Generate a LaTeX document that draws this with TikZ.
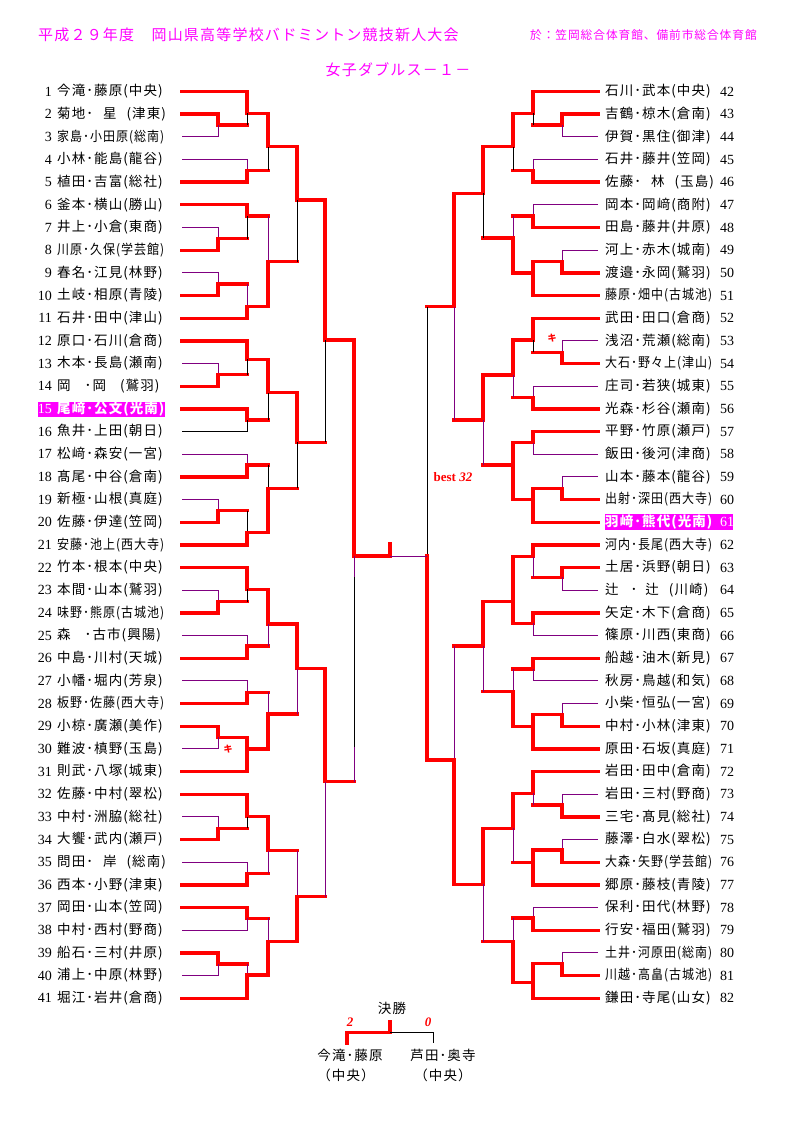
\documentclass[tikz,border=0pt]{standalone}
\usepackage{fontspec}
\setmainfont{Liberation Serif}
\newfontfamily\jp[LetterSpace=8]{Noto Sans CJK JP}
\definecolor{lpurple}{RGB}{128,0,128}
\definecolor{hmag}{RGB}{255,0,255}
\newcommand\sq[1]{\scalebox{0.89}[1]{#1}}

\begin{document}
\begin{tikzpicture}[x=1pt,y=-1pt,
  win/.style={red,line width=3.4pt,line cap=rect},
  lose/.style={lpurple,line width=0.8pt},
  lost/.style={black,line width=0.8pt},
  seedL/.style={anchor=east,inner sep=0pt,font=\fontsize{14}{14}\selectfont},
  seedR/.style={anchor=west,inner sep=0pt,font=\fontsize{14}{14}\selectfont},
  pair/.style={anchor=west,inner sep=0pt,font=\jp\fontsize{13.5}{13.5}\selectfont},
  head/.style={inner sep=0pt,text=hmag,font=\jp\fontsize{15}{15}\selectfont},
  kiken/.style={inner sep=0pt,text=red,font=\jp\bfseries\fontsize{9}{9}\selectfont}]
\useasboundingbox (0,0) rectangle (794,1123);

% headings
\node[head,anchor=west] (title) at (38,35) {平成２９年度　岡山県高等学校バドミントン競技新人大会};
\node[head,anchor=west,font=\jp\fontsize{11.7}{12}\selectfont] (place) at (530,35) {於：笠岡総合体育館、備前市総合体育館};
\node[head] (event) at (398,70) {女子ダブルス－１－};

% highlighted pairs
\fill[hmag] (38,401.5) rectangle (165,416.5);
\fill[hmag] (605,513.5) rectangle (733,529.5);

% left side
\node[seedL] at (52,91.5) {1}; \node[pair] (l1) at (57,91.5) {今滝･藤原(中央)};
\node[seedL] at (52,114.2) {2}; \node[pair] (l2) at (57,114.2) {菊地･\hspace{10pt}星\hspace{10pt}(津東)};
\node[seedL] at (52,136.8) {3}; \node[pair] (l3) at (57,136.8) {\sq{家島･小田原(総南)}};
\node[seedL] at (52,159.5) {4}; \node[pair] (l4) at (57,159.5) {小林･能島(龍谷)};
\node[seedL] at (52,182.2) {5}; \node[pair] (l5) at (57,182.2) {植田･吉富(総社)};
\node[seedL] at (52,204.8) {6}; \node[pair] (l6) at (57,204.8) {釜本･横山(勝山)};
\node[seedL] at (52,227.5) {7}; \node[pair] (l7) at (57,227.5) {井上･小倉(東商)};
\node[seedL] at (52,250.2) {8}; \node[pair] (l8) at (57,250.2) {\sq{川原･久保(学芸館)}};
\node[seedL] at (52,272.8) {9}; \node[pair] (l9) at (57,272.8) {春名･江見(林野)};
\node[seedL] at (52,295.5) {10}; \node[pair] (l10) at (57,295.5) {土岐･相原(青陵)};
\node[seedL] at (52,318.2) {11}; \node[pair] (l11) at (57,318.2) {石井･田中(津山)};
\node[seedL] at (52,340.8) {12}; \node[pair] (l12) at (57,340.8) {原口･石川(倉商)};
\node[seedL] at (52,363.5) {13}; \node[pair] (l13) at (57,363.5) {木本･長島(瀬南)};
\node[seedL] at (52,386.2) {14}; \node[pair] (l14) at (57,386.2) {岡\hspace{14pt}･岡\hspace{14pt}(鷲羽)};
\node[seedL,text=white] at (52,408.8) {15}; \node[pair,text=white] (l15) at (57,408.8) {\bfseries 尾﨑･公文(光南)};
\node[seedL] at (52,431.5) {16}; \node[pair] (l16) at (57,431.5) {魚井･上田(朝日)};
\node[seedL] at (52,454.2) {17}; \node[pair] (l17) at (57,454.2) {松﨑･森安(一宮)};
\node[seedL] at (52,476.8) {18}; \node[pair] (l18) at (57,476.8) {髙尾･中谷(倉南)};
\node[seedL] at (52,499.5) {19}; \node[pair] (l19) at (57,499.5) {新極･山根(真庭)};
\node[seedL] at (52,522.2) {20}; \node[pair] (l20) at (57,522.2) {佐藤･伊達(笠岡)};
\node[seedL] at (52,544.8) {21}; \node[pair] (l21) at (57,544.8) {\sq{安藤･池上(西大寺)}};
\node[seedL] at (52,567.5) {22}; \node[pair] (l22) at (57,567.5) {竹本･根本(中央)};
\node[seedL] at (52,590.2) {23}; \node[pair] (l23) at (57,590.2) {本間･山本(鷲羽)};
\node[seedL] at (52,612.8) {24}; \node[pair] (l24) at (57,612.8) {\sq{味野･熊原(古城池)}};
\node[seedL] at (52,635.5) {25}; \node[pair] (l25) at (57,635.5) {森\hspace{14pt}･古市(興陽)};
\node[seedL] at (52,658.2) {26}; \node[pair] (l26) at (57,658.2) {中島･川村(天城)};
\node[seedL] at (52,680.8) {27}; \node[pair] (l27) at (57,680.8) {小幡･堀内(芳泉)};
\node[seedL] at (52,703.5) {28}; \node[pair] (l28) at (57,703.5) {\sq{板野･佐藤(西大寺)}};
\node[seedL] at (52,726.2) {29}; \node[pair] (l29) at (57,726.2) {小椋･廣瀬(美作)};
\node[seedL] at (52,748.8) {30}; \node[pair] (l30) at (57,748.8) {難波･槙野(玉島)};
\node[seedL] at (52,771.5) {31}; \node[pair] (l31) at (57,771.5) {則武･八塚(城東)};
\node[seedL] at (52,794.2) {32}; \node[pair] (l32) at (57,794.2) {佐藤･中村(翠松)};
\node[seedL] at (52,816.8) {33}; \node[pair] (l33) at (57,816.8) {中村･洲脇(総社)};
\node[seedL] at (52,839.5) {34}; \node[pair] (l34) at (57,839.5) {大饗･武内(瀬戸)};
\node[seedL] at (52,862.2) {35}; \node[pair] (l35) at (57,862.2) {問田･\hspace{10pt}岸\hspace{10pt}(総南)};
\node[seedL] at (52,884.8) {36}; \node[pair] (l36) at (57,884.8) {西本･小野(津東)};
\node[seedL] at (52,907.5) {37}; \node[pair] (l37) at (57,907.5) {岡田･山本(笠岡)};
\node[seedL] at (52,930.2) {38}; \node[pair] (l38) at (57,930.2) {中村･西村(野商)};
\node[seedL] at (52,952.8) {39}; \node[pair] (l39) at (57,952.8) {船石･三村(井原)};
\node[seedL] at (52,975.5) {40}; \node[pair] (l40) at (57,975.5) {浦上･中原(林野)};
\node[seedL] at (52,998.2) {41}; \node[pair] (l41) at (57,998.2) {堀江･岩井(倉商)};

% right side
\node[pair] (r42) at (605,91.5) {石川･武本(中央)}; \node[seedR] at (720,91.5) {42};
\node[pair] (r43) at (605,114.2) {吉鶴･椋木(倉南)}; \node[seedR] at (720,114.2) {43};
\node[pair] (r44) at (605,136.8) {伊賀･黒住(御津)}; \node[seedR] at (720,136.8) {44};
\node[pair] (r45) at (605,159.5) {石井･藤井(笠岡)}; \node[seedR] at (720,159.5) {45};
\node[pair] (r46) at (605,182.2) {佐藤･\hspace{10pt}林\hspace{10pt}(玉島)}; \node[seedR] at (720,182.2) {46};
\node[pair] (r47) at (605,204.8) {岡本･岡﨑(商附)}; \node[seedR] at (720,204.8) {47};
\node[pair] (r48) at (605,227.5) {田島･藤井(井原)}; \node[seedR] at (720,227.5) {48};
\node[pair] (r49) at (605,250.2) {河上･赤木(城南)}; \node[seedR] at (720,250.2) {49};
\node[pair] (r50) at (605,272.8) {渡邉･永岡(鷲羽)}; \node[seedR] at (720,272.8) {50};
\node[pair] (r51) at (605,295.5) {\sq{藤原･畑中(古城池)}}; \node[seedR] at (720,295.5) {51};
\node[pair] (r52) at (605,318.2) {武田･田口(倉商)}; \node[seedR] at (720,318.2) {52};
\node[pair] (r53) at (605,340.8) {浅沼･荒瀬(総南)}; \node[seedR] at (720,340.8) {53};
\node[pair] (r54) at (605,363.5) {\sq{大石･野々上(津山)}}; \node[seedR] at (720,363.5) {54};
\node[pair] (r55) at (605,386.2) {庄司･若狭(城東)}; \node[seedR] at (720,386.2) {55};
\node[pair] (r56) at (605,408.8) {光森･杉谷(瀬南)}; \node[seedR] at (720,408.8) {56};
\node[pair] (r57) at (605,431.5) {平野･竹原(瀬戸)}; \node[seedR] at (720,431.5) {57};
\node[pair] (r58) at (605,454.2) {飯田･後河(津商)}; \node[seedR] at (720,454.2) {58};
\node[pair] (r59) at (605,476.8) {山本･藤本(龍谷)}; \node[seedR] at (720,476.8) {59};
\node[pair] (r60) at (605,499.5) {\sq{出射･深田(西大寺)}}; \node[seedR] at (720,499.5) {60};
\node[pair,text=white] (r61) at (605,522.2) {\bfseries 羽﨑･熊代(光南)}; \node[seedR,text=white] at (720,522.2) {61};
\node[pair] (r62) at (605,544.8) {\sq{河内･長尾(西大寺)}}; \node[seedR] at (720,544.8) {62};
\node[pair] (r63) at (605,567.5) {土居･浜野(朝日)}; \node[seedR] at (720,567.5) {63};
\node[pair] (r64) at (605,590.2) {辻\hspace{12pt}･\hspace{8pt}辻\hspace{10pt}(川崎)}; \node[seedR] at (720,590.2) {64};
\node[pair] (r65) at (605,612.8) {矢定･木下(倉商)}; \node[seedR] at (720,612.8) {65};
\node[pair] (r66) at (605,635.5) {篠原･川西(東商)}; \node[seedR] at (720,635.5) {66};
\node[pair] (r67) at (605,658.2) {船越･油木(新見)}; \node[seedR] at (720,658.2) {67};
\node[pair] (r68) at (605,680.8) {秋房･鳥越(和気)}; \node[seedR] at (720,680.8) {68};
\node[pair] (r69) at (605,703.5) {小柴･恒弘(一宮)}; \node[seedR] at (720,703.5) {69};
\node[pair] (r70) at (605,726.2) {中村･小林(津東)}; \node[seedR] at (720,726.2) {70};
\node[pair] (r71) at (605,748.8) {原田･石坂(真庭)}; \node[seedR] at (720,748.8) {71};
\node[pair] (r72) at (605,771.5) {岩田･田中(倉南)}; \node[seedR] at (720,771.5) {72};
\node[pair] (r73) at (605,794.2) {岩田･三村(野商)}; \node[seedR] at (720,794.2) {73};
\node[pair] (r74) at (605,816.8) {三宅･髙見(総社)}; \node[seedR] at (720,816.8) {74};
\node[pair] (r75) at (605,839.5) {藤澤･白水(翠松)}; \node[seedR] at (720,839.5) {75};
\node[pair] (r76) at (605,862.2) {\sq{大森･矢野(学芸館)}}; \node[seedR] at (720,862.2) {76};
\node[pair] (r77) at (605,884.8) {郷原･藤枝(青陵)}; \node[seedR] at (720,884.8) {77};
\node[pair] (r78) at (605,907.5) {保利･田代(林野)}; \node[seedR] at (720,907.5) {78};
\node[pair] (r79) at (605,930.2) {行安･福田(鷲羽)}; \node[seedR] at (720,930.2) {79};
\node[pair] (r80) at (605,952.8) {\sq{土井･河原田(総南)}}; \node[seedR] at (720,952.8) {80};
\node[pair] (r81) at (605,975.5) {\sq{川越･高畠(古城池)}}; \node[seedR] at (720,975.5) {81};
\node[pair] (r82) at (605,998.2) {鎌田･寺尾(山女)}; \node[seedR] at (720,998.2) {82};

% left bracket, 1-11
\draw[win] (182,91.5) -- (247,91.5) -- (247,113.3) -- (268,113.3) -- (268,146.7) -- (297,146.7) -- (297,200) -- (325,200) -- (325,340) -- (354,340) -- (354,556) -- (390,556) -- (390,544);
\draw[win] (182,114.2) -- (218,114.2) -- (218,125) -- (247,125);
\draw[lost] (247,125) -- (247,113.3);
\draw[lose] (182,136.8) -- (218,136.8) -- (218,125);
\draw[lose] (182,159.5) -- (247,159.5) -- (247,170.5);
\draw[win] (182,182.2) -- (247,182.2) -- (247,170.5) -- (268,170.5);
\draw[lost] (268,170.5) -- (268,146.7);
\draw[win] (182,204.8) -- (247,204.8) -- (247,216) -- (268,216);
\draw[lose] (268,216) -- (268,261.7);
\draw[lose] (182,227.5) -- (218,227.5) -- (218,238.5);
\draw[win] (182,250.2) -- (218,250.2) -- (218,238.5) -- (247,238.5);
\draw[lost] (247,238.5) -- (247,216);
\draw[lose] (182,272.8) -- (218,272.8) -- (218,284);
\draw[win] (182,295.5) -- (218,295.5) -- (218,284) -- (247,284);
\draw[lose] (247,284) -- (247,306.7);
\draw[win] (182,318.2) -- (247,318.2) -- (247,306.7) -- (268,306.7) -- (268,261.7) -- (297,261.7);
\draw[lost] (297,261.7) -- (297,200);

% left bracket, 12-21
\draw[win] (182,340.8) -- (247,340.8) -- (247,359.3) -- (268,359.3) -- (268,392.7) -- (297,392.7) -- (297,442.3) -- (325,442.3);
\draw[lost] (325,442.3) -- (325,340);
\draw[lose] (182,363.5) -- (218,363.5) -- (218,374.5);
\draw[win] (182,386.2) -- (218,386.2) -- (218,374.5) -- (247,374.5);
\draw[lost] (247,374.5) -- (247,359.3);
\draw[win] (182,408.8) -- (247,408.8) -- (247,420) -- (268,420);
\draw[lost] (268,420) -- (268,392.7);
\draw[lost] (182,431.5) -- (247,431.5) -- (247,420);
\draw[lose] (182,454.2) -- (247,454.2) -- (247,465);
\draw[win] (182,476.8) -- (247,476.8) -- (247,465) -- (268,465);
\draw[lost] (268,465) -- (268,488.3);
\draw[lose] (182,499.5) -- (218,499.5) -- (218,510.7);
\draw[win] (182,522.2) -- (218,522.2) -- (218,510.7) -- (247,510.7);
\draw[lost] (247,510.7) -- (247,532.7);
\draw[win] (182,544.8) -- (247,544.8) -- (247,532.7) -- (268,532.7) -- (268,488.3) -- (297,488.3);
\draw[lost] (297,488.3) -- (297,442.3);

% left bracket, 22-31
\draw[win] (182,567.5) -- (247,567.5) -- (247,589.3) -- (268,589.3) -- (268,624) -- (297,624) -- (297,668.7) -- (325,668.7) -- (325,781.7) -- (354,781.7);
\draw[lose] (354,781.7) -- (354,747);
\draw[lost] (354,747) -- (354,577);
\draw[lose] (354,577) -- (354,556);
\draw[lose] (182,590.2) -- (218,590.2) -- (218,601.7);
\draw[win] (182,612.8) -- (218,612.8) -- (218,601.7) -- (247,601.7);
\draw[lost] (247,601.7) -- (247,589.3);
\draw[lose] (182,635.5) -- (247,635.5) -- (247,646);
\draw[win] (182,658.2) -- (247,658.2) -- (247,646) -- (268,646);
\draw[lose] (268,646) -- (268,624);
\draw[lose] (182,680.8) -- (247,680.8) -- (247,692.3);
\draw[win] (182,703.5) -- (247,703.5) -- (247,692.3) -- (268,692.3);
\draw[lose] (268,692.3) -- (268,714);
\draw[win] (182,726.2) -- (218,726.2) -- (218,737.3) -- (247,737.3) -- (247,749) -- (268,749) -- (268,714) -- (297,714);
\draw[lose] (297,714) -- (297,668.7);
\draw[lose] (182,748.8) -- (218,748.8) -- (218,737.3);
\draw[win] (182,771.5) -- (247,771.5) -- (247,749);
\node[kiken] (k30) at (228,749) {キ};

% left bracket, 32-41
\draw[win] (182,794.2) -- (247,794.2) -- (247,816.7) -- (268,816.7) -- (268,850.7) -- (297,850.7);
\draw[lose] (297,850.7) -- (297,896.7);
\draw[lose] (182,816.8) -- (218,816.8) -- (218,828.3);
\draw[win] (182,839.5) -- (218,839.5) -- (218,828.3) -- (247,828.3);
\draw[lost] (247,828.3) -- (247,816.7);
\draw[lose] (182,862.2) -- (247,862.2) -- (247,873.3);
\draw[win] (182,884.8) -- (247,884.8) -- (247,873.3) -- (268,873.3);
\draw[lose] (268,873.3) -- (268,850.7);
\draw[win] (182,907.5) -- (247,907.5) -- (247,918.3) -- (268,918.3);
\draw[lose] (268,918.3) -- (268,941.7);
\draw[lose] (182,930.2) -- (247,930.2) -- (247,918.3);
\draw[win] (182,952.8) -- (218,952.8) -- (218,964) -- (247,964);
\draw[lose] (247,964) -- (247,975);
\draw[lose] (182,975.5) -- (218,975.5) -- (218,964);
\draw[win] (182,998.2) -- (247,998.2) -- (247,975) -- (268,975) -- (268,941.7) -- (297,941.7) -- (297,896.7) -- (325,896.7);
\draw[lose] (325,896.7) -- (325,781.7);

% right bracket, 42-51
\draw[win] (598,91.5) -- (533,91.5) -- (533,113.3) -- (513,113.3) -- (513,146.7) -- (483,146.7) -- (483,193.3) -- (454,193.3) -- (454,306.7) -- (427,306.7);
\draw[lost] (427,306.7) -- (427,556);
\draw[win] (598,114.2) -- (562,114.2) -- (562,125) -- (533,125);
\draw[lost] (533,125) -- (533,113.3);
\draw[lose] (598,136.8) -- (562,136.8) -- (562,125);
\draw[lose] (598,159.5) -- (533,159.5) -- (533,170.5);
\draw[win] (598,182.2) -- (533,182.2) -- (533,170.5) -- (513,170.5);
\draw[lost] (513,170.5) -- (513,146.7);
\draw[lose] (598,204.8) -- (533,204.8) -- (533,216);
\draw[win] (598,227.5) -- (533,227.5) -- (533,216) -- (513,216);
\draw[lose] (513,216) -- (513,238);
\draw[lose] (598,250.2) -- (562,250.2) -- (562,261.7);
\draw[win] (598,272.8) -- (562,272.8) -- (562,261.7) -- (533,261.7) -- (533,272.8) -- (513,272.8) -- (513,238) -- (483,238);
\draw[lost] (483,238) -- (483,193.3);
\draw[win] (598,295.5) -- (533,295.5) -- (533,272.8);

% right bracket, 52-61
\draw[win] (598,318.2) -- (533,318.2) -- (533,340) -- (513,340) -- (513,375) -- (483,375) -- (483,420) -- (454,420);
\draw[lose] (454,420) -- (454,306.7);
\draw[lose] (598,340.8) -- (562,340.8) -- (562,352.3);
\draw[win] (598,363.5) -- (562,363.5) -- (562,352.3) -- (533,352.3);
\draw[lost] (533,352.3) -- (533,340);
\node[kiken] (k53) at (552,338) {キ};
\draw[lose] (598,386.2) -- (533,386.2) -- (533,397.3);
\draw[win] (598,408.8) -- (533,408.8) -- (533,397.3) -- (513,397.3);
\draw[lose] (513,397.3) -- (513,375);
\draw[win] (598,431.5) -- (533,431.5) -- (533,442.7) -- (513,442.7) -- (513,465) -- (483,465);
\draw[lose] (483,465) -- (483,420);
\draw[lose] (598,454.2) -- (533,454.2) -- (533,442.7);
\draw[lose] (598,476.8) -- (562,476.8) -- (562,488.3);
\draw[win] (598,499.5) -- (562,499.5) -- (562,488.3) -- (533,488.3) -- (533,499.5) -- (513,499.5) -- (513,465);
\draw[win] (598,522.2) -- (533,522.2) -- (533,499.5);

% right bracket, 62-71
\draw[win] (598,544.8) -- (533,544.8) -- (533,556.7) -- (513,556.7) -- (513,601.7) -- (483,601.7) -- (483,646) -- (454,646);
\draw[lose] (454,646) -- (454,760);
\draw[win] (598,567.5) -- (562,567.5) -- (562,577.3) -- (533,577.3);
\draw[lose] (533,577.3) -- (533,556.7);
\draw[lose] (598,590.2) -- (562,590.2) -- (562,577.3);
\draw[win] (598,612.8) -- (533,612.8) -- (533,623.3) -- (513,623.3) -- (513,601.7);
\draw[lose] (598,635.5) -- (533,635.5) -- (533,623.3);
\draw[win] (598,658.2) -- (533,658.2) -- (533,669) -- (513,669);
\draw[lose] (513,669) -- (513,691.7);
\draw[lose] (598,680.8) -- (533,680.8) -- (533,669);
\draw[lose] (598,703.5) -- (562,703.5) -- (562,714.3);
\draw[win] (598,726.2) -- (562,726.2) -- (562,714.3) -- (533,714.3) -- (533,726.2) -- (513,726.2) -- (513,691.7) -- (483,691.7);
\draw[lose] (483,691.7) -- (483,646);
\draw[win] (598,748.8) -- (533,748.8) -- (533,726.2);

% right bracket, 72-82
\draw[win] (598,771.5) -- (533,771.5) -- (533,793.3) -- (513,793.3) -- (513,828.3) -- (483,828.3) -- (483,884.3) -- (454,884.3) -- (454,760) -- (427,760) -- (427,556);
\draw[lose] (427,556) -- (390,556);
\draw[lose] (598,794.2) -- (562,794.2) -- (562,805);
\draw[win] (598,816.8) -- (562,816.8) -- (562,805) -- (533,805);
\draw[lose] (533,805) -- (533,793.3);
\draw[lose] (598,839.5) -- (562,839.5) -- (562,850);
\draw[win] (598,862.2) -- (562,862.2) -- (562,850) -- (533,850) -- (533,862.2) -- (513,862.2);
\draw[lose] (513,862.2) -- (513,828.3);
\draw[win] (598,884.8) -- (533,884.8) -- (533,862.2);
\draw[lose] (598,907.5) -- (533,907.5) -- (533,918);
\draw[win] (598,930.2) -- (533,930.2) -- (533,918) -- (513,918);
\draw[lose] (513,918) -- (513,941.7);
\draw[lose] (598,952.8) -- (562,952.8) -- (562,963.3);
\draw[win] (598,975.5) -- (562,975.5) -- (562,963.3) -- (533,963.3) -- (533,982.7) -- (513,982.7) -- (513,941.7) -- (483,941.7);
\draw[lose] (483,941.7) -- (483,884.3);
\draw[win] (598,998.2) -- (533,998.2) -- (533,982.7);

\node[inner sep=0pt,text=red,font=\bfseries\fontsize{13}{13}\selectfont] (best) at (453,477) {best \textit{32}};

% final
\node[pair,anchor=center] (fin) at (392,1008) {決勝};
\node[inner sep=0pt,text=red,font=\bfseries\itshape\fontsize{13}{13}\selectfont] (s2) at (350,1022) {2};
\node[inner sep=0pt,text=red,font=\bfseries\itshape\fontsize{13}{13}\selectfont] (s0) at (428,1022) {0};
\draw[win] (347,1043) -- (347,1032.7) -- (390,1032.7) -- (390,1021.7);
\draw[lost] (390,1032.7) -- (433,1032.7) -- (433,1043);
\node[pair,anchor=center] (fa) at (350,1055) {今滝･藤原};
\node[pair,anchor=center] (fa2) at (346,1075) {（中央）};
\node[pair,anchor=center] (fb) at (443,1055) {芦田･奥寺};
\node[pair,anchor=center] (fb2) at (443,1075) {（中央）};
\end{tikzpicture}
\end{document}
